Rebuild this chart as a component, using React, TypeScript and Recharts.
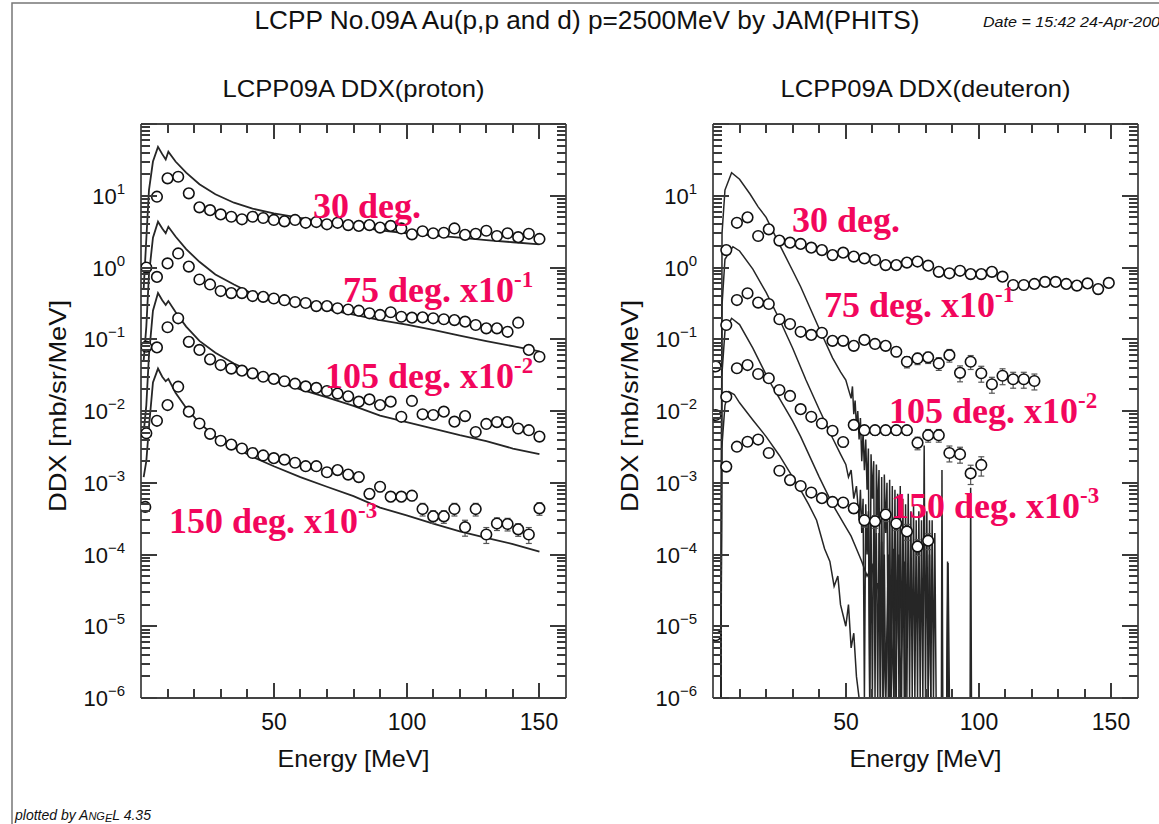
import React from 'react';
import { ComposedChart, Line, Scatter, XAxis, YAxis, ErrorBar } from 'recharts';

// ---- proton, measured (angle scaling x10^-n already applied) ----
const protonExpE = [1.6, 2, 6, 10, 14, 18, 22, 26, 30, 34, 38, 42, 46, 50, 54, 58, 62, 66, 70, 74, 78, 82, 86, 90, 94, 98, 102, 106, 110, 114, 118, 122, 126, 130, 134, 138, 142, 146, 150];
const p30Exp = [null, null, 9.7, 17.5, 18.4, 10.8, 6.9, 6.3, 5.5, 5.1, 4.7, 5.1, 4.9, 4.6, 4.4, 4.6, 4.2, 4.3, 4.0, 4.2, 3.9, 3.8, 3.9, 3.6, 3.8, 3.5, 2.9, 3.2, 3.0, 3.05, 3.5, 2.85, 2.95, 3.25, 2.75, 3.0, 2.65, 2.95, 2.5];
const p75Exp = [null, 1.0, 0.74, 1.14, 1.57, 1.03, 0.68, 0.58, 0.47, 0.44, 0.44, 0.4, 0.39, 0.37, 0.35, 0.33, 0.32, 0.29, 0.29, 0.27, 0.26, 0.25, 0.23, 0.218, 0.238, 0.206, 0.2, 0.202, 0.196, 0.19, 0.185, 0.176, 0.158, 0.142, 0.142, 0.127, 0.17, 0.071, 0.057];
const p105Exp = [null, 0.0787, 0.077, 0.147, 0.196, 0.092, 0.071, 0.0525, 0.0437, 0.039, 0.0365, 0.0335, 0.03, 0.028, 0.026, 0.024, 0.022, 0.021, 0.019, 0.0175, 0.016, 0.0135, 0.0145, 0.0121, 0.0135, 0.0083, 0.0138, 0.009, 0.0088, 0.0098, 0.0071, 0.0085, 0.0051, 0.0066, 0.007, 0.007, 0.0057, 0.0054, 0.0044];
const p150Exp = [0.00046, 0.0049, 0.0073, 0.0121, 0.0218, 0.0098, 0.0067, 0.0048, 0.00385, 0.0034, 0.003, 0.0026, 0.0024, 0.0022, 0.0021, 0.0019, 0.0017, 0.0017, 0.0014, 0.0015, 0.0013, 0.0012, 0.0007, 0.00088, 0.00064, 0.00064, 0.00066, 0.00043, 0.00034, 0.00034, 0.00043, 0.00024, 0.00043, 0.00019, 0.00027, 0.000266, 0.000224, 0.00019, 0.00044];
// relative error bars (only the high energy points show them)
const p105Rel = [...Array(26).fill(0), 0.1, 0.1, 0.1, 0.1, 0.1, 0.12, 0.12, 0.1, 0.12, 0.12, 0.15, 0.12, 0.12];
const p150Rel = [...Array(22).fill(0), 0.15, 0.15, 0.15, 0.15, 0.15, 0.2, 0.2, 0.2, 0.2, 0.25, 0.2, 0.25, 0.2, 0.2, 0.2, 0.25, 0.2];

// ---- proton, calculation ----
const protonCalcE = [1, 2, 3, 4.5, 6.4, 8, 9.3, 10.3, 13, 17, 22, 28, 35, 42, 50, 60, 70, 80, 90, 100, 110, 120, 130, 140, 150];
const p30Calc = [0.5, 2.5, 12, 30, 48, 38, 32, 41, 30, 21, 14.5, 10.5, 8, 6.6, 5.7, 4.9, 4.3, 3.8, 3.3, 3.0, 2.8, 2.6, 2.4, 2.25, 2.1];
const p75Calc = [0.05, 0.15, 0.8, 2.6, 4.35, 3.5, 3.0, 3.7, 2.7, 1.8, 1.2, 0.8, 0.58, 0.43, 0.37, 0.31, 0.26, 0.22, 0.185, 0.16, 0.135, 0.112, 0.094, 0.08, 0.068];
const p105Calc = [0.005, 0.012, 0.06, 0.25, 0.44, 0.35, 0.3, 0.34, 0.24, 0.15, 0.095, 0.065, 0.046, 0.035, 0.027, 0.02, 0.0155, 0.0118, 0.0086, 0.007, 0.0057, 0.0046, 0.0038, 0.003, 0.0025];
const p150Calc = [0.0012, 0.002, 0.006, 0.025, 0.039, 0.03, 0.026, 0.028, 0.018, 0.011, 0.0068, 0.0044, 0.0031, 0.0023, 0.0017, 0.0012, 0.00088, 0.00065, 0.00045, 0.00035, 0.00027, 0.00021, 0.00017, 0.00014, 0.00011];

// ---- deuteron, measured ----
const deutExpE = [1, 5, 9, 13, 17, 21, 25, 29, 33, 37, 41, 45, 49, 53, 57, 61, 65, 69, 73, 77, 81, 85, 89, 93, 97, 101, 105, 109, 113, 117, 121, 125, 129, 133, 137, 141, 145, 149];
const d30Exp = [null, 1.75, 4.2, 5.0, 2.75, 3.4, 2.37, 2.22, 2.13, 1.89, 1.75, 1.49, 1.61, 1.42, 1.34, 1.27, 1.08, 1.08, 1.17, 1.21, 1.06, 0.87, 0.83, 0.9, 0.81, 0.81, 0.87, 0.745, 0.57, 0.57, 0.59, 0.63, 0.63, 0.59, 0.56, 0.6, 0.5, 0.61];
const d75Exp = [0.0418, 0.158, 0.352, 0.437, 0.324, 0.31, 0.19, 0.163, 0.127, 0.115, 0.123, 0.095, 0.095, 0.081, 0.098, 0.086, 0.081, 0.067, 0.0486, 0.054, 0.056, 0.046, 0.06, 0.034, 0.0486, 0.0336, 0.0236, 0.031, 0.0277, 0.0277, 0.0262];
const d105Exp = [0.0088, 0.0158, 0.0394, 0.0437, 0.0328, 0.0286, 0.0196, 0.0162, 0.0106, 0.0083, 0.0067, 0.0053, 0.0037, 0.0064, 0.0054, 0.0054, 0.0054, 0.0054, 0.0054, 0.0036, 0.0046, 0.0046, 0.0026, 0.0025, 0.00135, 0.00177];
const d150Exp = [7.5e-6, 0.00168, 0.00318, 0.00373, 0.004, 0.0026, 0.00147, 0.00109, 0.0009, 0.00073, 0.00061, 0.00054, 0.00053, 0.00044, 0.0003, 0.00029, 0.00036, 0.00027, 0.00021, 0.000129, 0.000156];
const d30Rel = [...Array(11).fill(0), 0.06, 0.06, 0.06, 0.06, 0.06, 0.06, 0.06, 0.08, 0.08, 0.08, 0.1, 0.1, 0.12, 0.1, 0.1, 0.1, 0.12, 0.12, 0.14, 0.12, 0.14, 0.12, 0.14, 0.14, 0.14, 0.14, 0.14];
const d75Rel = [...Array(11).fill(0), 0.1, 0.1, 0.1, 0.12, 0.12, 0.12, 0.15, 0.18, 0.18, 0.18, 0.2, 0.2, 0.25, 0.22, 0.25, 0.25, 0.25, 0.25, 0.25, 0.25];
const d105Rel = [...Array(11).fill(0), 0.12, 0.15, 0.15, 0.15, 0.15, 0.15, 0.15, 0.15, 0.2, 0.2, 0.2, 0.25, 0.25, 0.3, 0.3];
const d150Rel = [...Array(11).fill(0), 0.15, 0.15, 0.15, 0.2, 0.2, 0.2, 0.2, 0.25, 0.25, 0.25];

// ---- deuteron, calculation [E, DDX]; the tails are noisy histograms dropping to zero ----
const d30Calc: [number, number][] = [
  [3, 1e-6], [3.4, 3], [4.5, 12], [7, 21], [10, 17], [14, 10.5], [17, 7], [20, 5], [25, 2.1], [30, 0.9], [33, 0.54], [40, 0.14], [45, 0.055], [48, 0.035],
  [50, 0.027], [51, 0.02], [52, 0.015], [52.5, 0.022], [53, 0.009], [53.5, 0.014], [54, 0.006], [54.5, 0.01], [55, 0.004], [55.5, 0.008], [56, 0.002],
  [56.5, 0.005], [57, 0.0015], [57.5, 0.004], [58, 0.0008], [58.5, 0.003], [59, 1e-6], [59.5, 0.0025], [60, 0.0006], [60.5, 0.002], [61, 1e-6],
  [61.5, 0.0018], [62, 0.0003], [62.5, 0.0015], [63, 1e-6], [63.5, 0.0012], [64, 1e-6], [64.5, 0.0013], [65, 0.0002], [65.5, 0.001], [66, 1e-6],
  [66.5, 0.0011], [67, 1e-6], [67.5, 0.0009], [68, 1e-6], [68.5, 0.0008], [69, 1e-6], [69.5, 0.0007], [70, 1e-6], [70.5, 0.0009], [71, 1e-6],
  [71.5, 0.0006], [72, 1e-6], [72.5, 0.0005], [73, 1e-6], [73.5, 0.0007], [74, 1e-6], [74.5, 0.0004], [75, 1e-6], [75.5, 0.0005], [76, 1e-6],
  [76.5, 0.0003], [77, 1e-6], [77.5, 0.0004], [78, 1e-6], [78.5, 0.0003], [79, 1e-6], [79.5, 0.0033], [80, 1e-6], [80.5, 0.0004], [81, 1e-6],
  [81.5, 0.0003], [82, 1e-6], [82.5, 0.0003], [83, 1e-6], [83.5, 0.0002], [84, 1e-6], [86, 1e-6], [86.2, 0.0015], [86.5, 1e-6], [88, 1e-6],
  [88.3, 0.00008], [88.6, 1e-6], [96.8, 1e-6], [97, 0.00085], [97.3, 1e-6],
];
const d75Calc: [number, number][] = [
  [3, 1e-6], [3.4, 0.3], [4.5, 1.3], [7.5, 1.95], [10, 1.7], [15, 0.95], [20, 0.45], [25, 0.19], [30, 0.075], [35, 0.027], [40, 0.0105], [45, 0.0042],
  [48, 0.0025], [50, 0.0018], [51, 0.0012], [52, 0.0015], [53, 0.0006], [54, 0.0009], [55, 0.0003], [55.5, 0.0008], [56, 0.0002], [56.5, 0.0006],
  [57, 1e-6], [57.5, 0.0005], [58, 0.0001], [58.5, 0.0004], [59, 1e-6], [59.5, 0.0003], [60, 1e-6], [60.5, 0.0003], [61, 0.00005], [61.5, 0.0002],
  [62, 1e-6], [62.5, 0.0002], [63, 1e-6], [63.5, 0.00015], [64, 1e-6], [64.5, 0.0001], [65, 1e-6], [66, 0.0001], [66.5, 1e-6], [68, 0.00012],
  [68.5, 1e-6], [70, 0.0001], [70.5, 1e-6], [72, 0.00008], [72.5, 1e-6], [81, 1e-6], [81.5, 0.0001], [82, 1e-6],
];
const d105Calc: [number, number][] = [
  [3, 1e-6], [3.3, 0.03], [4.5, 0.13], [7, 0.196], [10, 0.16], [15, 0.075], [21, 0.027], [25, 0.015], [30, 0.0072], [33, 0.0044], [40, 0.0012],
  [45, 0.0005], [50, 0.00024], [52, 0.00018], [54, 0.00012], [56, 0.00008], [58, 0.00005], [60, 0.00007], [61, 0.00002], [62, 0.00004],
  [64, 0.000015], [65, 1e-6], [66, 0.00002], [67, 1e-6], [68, 0.00001], [69, 1e-6], [88, 1e-6], [88.5, 0.000076], [89, 1e-6],
];
const d150Calc: [number, number][] = [
  [3, 1e-6], [3.3, 0.003], [4.5, 0.012], [6, 0.0186], [8, 0.017], [10, 0.013], [15, 0.0075], [20, 0.0044], [25, 0.0024], [30, 0.0012], [33, 0.00079],
  [36, 0.0005], [39, 0.0003], [42, 0.00012], [44, 0.00008], [45.6, 0.000036], [47, 0.00005], [48, 0.00002], [50, 0.00001], [51, 0.00002],
  [52, 0.000005], [53, 0.000008], [54, 0.000002], [55, 1e-6],
];

// ---- axes ----
const xTicks = [10, 20, 30, 40, 50, 60, 70, 80, 90, 100, 110, 120, 130, 140, 150];
const xLabelled = [50, 100, 150];
const decades = [1e-6, 1e-5, 1e-4, 1e-3, 1e-2, 1e-1, 1, 10];
const minorSteps = [1, 2, 3, 4, 5, 6, 7, 8, 9];
const yTicks = [...decades.flatMap((d) => minorSteps.map((m) => m * d)), 100];

const PLOT_TOP = 124;
const PLOT_W = 425;
const PLOT_H = 574;
const Y_AXIS_W = 80;
const TOP_H = 2;
const RIGHT_W = 2;
const BOTTOM_H = 80;
const PANEL_LEFTS = [141, 713];

const SANS = "'Liberation Sans', Arial, Helvetica, sans-serif";
const SERIF = "'Liberation Serif', 'Times New Roman', serif";
const INK = '#262626';
const TICK = '#3a3a3a';
const PINK = '#f2065c';
const axisStyle = { stroke: '#444', strokeWidth: 1.8 };

type Pt = { e: number; v: number; err: [number, number] };

const fromGrid = (energies: number[], values: (number | null)[], rel: number[] = []): Pt[] =>
  energies.flatMap((e, i) => {
    const v = values[i];
    if (v == null) return [];
    const r = rel[i] ?? 0;
    return [{ e, v, err: [v * r, v * r] as [number, number] }];
  });

const fromPairs = (pairs: [number, number][]) => pairs.map(([e, v]) => ({ e, v }));

const isDecade = (v: number) => Math.abs(Math.log10(v) - Math.round(Math.log10(v))) < 1e-6;

// ticks point into the plot on all four sides
const BottomTick = ({ x, y, payload }: any) => {
  const px = Math.round(Number(x));
  const py = Number(y);
  const major = xLabelled.includes(payload.value);
  return (
    <g>
      <path d={`M${px},${py}V${py - (major ? 15 : 9)}`} stroke={TICK} strokeWidth={2} fill="none" />
      {major && (
        <text x={px} y={py + 32} textAnchor="middle" fontSize={23} fontFamily={SANS} fill="#111">
          {payload.value}
        </text>
      )}
    </g>
  );
};

const TopTick = ({ x, y, payload }: any) => {
  const px = Math.round(Number(x));
  const py = Number(y);
  const major = xLabelled.includes(payload.value);
  return <path d={`M${px},${py}V${py + (major ? 15 : 9)}`} stroke={TICK} strokeWidth={2} fill="none" />;
};

const LeftTick = ({ x, y, payload }: any) => {
  const v = payload.value;
  const major = isDecade(v);
  const exp = Math.round(Math.log10(v));
  const px = Number(x);
  const py = Number(y);
  const ly = Math.round(py);
  return (
    <g>
      <path d={`M${px},${ly}H${px + (major ? 16 : 9)}`} stroke={TICK} strokeWidth={2} fill="none" />
      {major && exp < 2 && (
        <text x={px - 16} y={py + 8} textAnchor="end" fontSize={22} fontFamily={SANS} fill="#111">
          <tspan>10</tspan>
          <tspan dy={-10} fontSize={15}>{exp < 0 ? `\u2212${-exp}` : exp}</tspan>
        </text>
      )}
    </g>
  );
};

const RightTick = ({ x, y, payload }: any) => {
  const major = isDecade(payload.value);
  const px = Number(x);
  const ly = Math.round(Number(y));
  return <path d={`M${px},${ly}H${px - (major ? 16 : 9)}`} stroke={TICK} strokeWidth={2} fill="none" />;
};

const OpenCircle = ({ cx, cy }: any) =>
  cx == null || cy == null ? null : <circle cx={cx} cy={cy} r={5.3} fill="#fff" stroke="#111" strokeWidth={1.6} />;

type PanelProps = {
  left: number;
  curves: { e: number; v: number }[][];
  points: Pt[][];
  curveWidth: number;
};

const Panel = ({ left, curves, points, curveWidth }: PanelProps) => (
  <div style={{ position: 'absolute', left: left - Y_AXIS_W, top: PLOT_TOP - TOP_H }}>
    <ComposedChart
      width={Y_AXIS_W + PLOT_W + RIGHT_W}
      height={TOP_H + PLOT_H + BOTTOM_H}
      margin={{ top: 0, right: 0, bottom: 0, left: 0 }}
    >
      <XAxis
        xAxisId="b"
        dataKey="e"
        type="number"
        domain={[0, 160]}
        ticks={xTicks}
        interval={0}
        allowDataOverflow
        tickSize={0}
        tickMargin={0}
        tickLine={false}
        axisLine={axisStyle}
        height={BOTTOM_H}
        tick={(p: any) => <BottomTick {...p} />}
      />
      <XAxis
        xAxisId="t"
        orientation="top"
        dataKey="e"
        type="number"
        domain={[0, 160]}
        ticks={xTicks}
        interval={0}
        allowDataOverflow
        tickSize={0}
        tickMargin={0}
        tickLine={false}
        axisLine={axisStyle}
        height={TOP_H}
        tick={(p: any) => <TopTick {...p} />}
      />
      <YAxis
        yAxisId="l"
        type="number"
        scale="log"
        domain={[1e-6, 100]}
        ticks={yTicks}
        interval={0}
        allowDataOverflow
        tickSize={0}
        tickMargin={0}
        tickLine={false}
        axisLine={axisStyle}
        width={Y_AXIS_W}
        tick={(p: any) => <LeftTick {...p} />}
      />
      <YAxis
        yAxisId="r"
        orientation="right"
        type="number"
        scale="log"
        domain={[1e-6, 100]}
        ticks={yTicks}
        interval={0}
        allowDataOverflow
        tickSize={0}
        tickMargin={0}
        tickLine={false}
        axisLine={axisStyle}
        width={RIGHT_W}
        tick={(p: any) => <RightTick {...p} />}
      />
      {/* invisible copy so that the right-hand log axis has data */}
      <Line
        xAxisId="t"
        yAxisId="r"
        data={curves[0]}
        dataKey="v"
        stroke="none"
        dot={false}
        activeDot={false}
        isAnimationActive={false}
      />
      {curves.map((c, i) => (
        <Line
          key={`calc-${i}`}
          xAxisId="b"
          yAxisId="l"
          data={c}
          dataKey="v"
          type="linear"
          stroke={INK}
          strokeWidth={curveWidth}
          dot={false}
          activeDot={false}
          isAnimationActive={false}
        />
      ))}
      {points.map((p, i) => (
        <Scatter
          key={`exp-${i}`}
          xAxisId="b"
          yAxisId="l"
          data={p}
          dataKey="v"
          shape={(s: any) => <OpenCircle {...s} />}
          isAnimationActive={false}
        >
          <ErrorBar dataKey="err" direction="y" width={3} stroke="#555" strokeWidth={1.2} />
        </Scatter>
      ))}
    </ComposedChart>
  </div>
);

const protonCurves = [p30Calc, p75Calc, p105Calc, p150Calc].map((vals) => fromGrid(protonCalcE, vals));
const protonPoints = [
  fromGrid(protonExpE, p30Exp),
  fromGrid(protonExpE, p75Exp),
  fromGrid(protonExpE, p105Exp, p105Rel),
  fromGrid(protonExpE, p150Exp, p150Rel),
];
const deutCurves = [d30Calc, d75Calc, d105Calc, d150Calc].map(fromPairs);
const deutPoints = [
  fromGrid(deutExpE, d30Exp, d30Rel),
  fromGrid(deutExpE, d75Exp, d75Rel),
  fromGrid(deutExpE, d105Exp, d105Rel),
  fromGrid(deutExpE, d150Exp, d150Rel),
];

const protonNotes = [
  { x: 313, y: 218, main: '30 deg.', sup: '' },
  { x: 343, y: 302, main: '75 deg. x10', sup: '-1' },
  { x: 325, y: 388, main: '105 deg. x10', sup: '-2' },
  { x: 169, y: 533, main: '150 deg. x10', sup: '-3' },
];
const deutNotes = [
  { x: 792, y: 232, main: '30 deg.', sup: '' },
  { x: 824, y: 317, main: '75 deg. x10', sup: '-1' },
  { x: 889, y: 423, main: '105 deg. x10', sup: '-2' },
  { x: 891, y: 518, main: '150 deg. x10', sup: '-3' },
];

const App = () => (
  <div style={{ position: 'absolute', left: 0, top: 0, width: 1159, height: 824, background: '#fff', overflow: 'hidden' }}>
    <Panel left={PANEL_LEFTS[0]} curves={protonCurves} points={protonPoints} curveWidth={1.8} />
    <Panel left={PANEL_LEFTS[1]} curves={deutCurves} points={deutPoints} curveWidth={1.5} />
    <svg width={1159} height={824} style={{ position: 'absolute', left: 0, top: 0, pointerEvents: 'none' }}>
      <path d="M12 1200 L12 3 L1200 3" fill="none" stroke="#777" strokeWidth={1.5} />
      <text x={587} y={29} textAnchor="middle" fontSize={25} fontFamily={SANS} fill="#111" textLength={665} lengthAdjust="spacingAndGlyphs">
        LCPP No.09A Au(p,p and d) p=2500MeV by JAM(PHITS)
      </text>
      <text x={983} y={27} fontSize={15} fontStyle="italic" fontFamily={SANS} fill="#111" textLength={186} lengthAdjust="spacingAndGlyphs">
        Date = 15:42 24-Apr-2006
      </text>
      {[
        { t: 'LCPP09A DDX(proton)', w: 262 },
        { t: 'LCPP09A DDX(deuteron)', w: 290 },
      ].map((s, i) => (
        <text key={s.t} x={PANEL_LEFTS[i] + PLOT_W / 2} y={97} textAnchor="middle" fontSize={24} fontFamily={SANS} fill="#111" textLength={s.w} lengthAdjust="spacingAndGlyphs">
          {s.t}
        </text>
      ))}
      {PANEL_LEFTS.map((l) => (
        <g key={`lab-${l}`}>
          <text x={l + PLOT_W / 2} y={767} textAnchor="middle" fontSize={24} fontFamily={SANS} fill="#111" textLength={152} lengthAdjust="spacingAndGlyphs">
            Energy [MeV]
          </text>
          <text
            x={l - 75}
            y={406}
            transform={`rotate(-90 ${l - 75} 406)`}
            textAnchor="middle"
            fontSize={24}
            fontFamily={SANS}
            fill="#111"
            textLength={212}
            lengthAdjust="spacingAndGlyphs"
          >
            DDX [mb/sr/MeV]
          </text>
        </g>
      ))}
      {[...protonNotes, ...deutNotes].map((n) => (
        <text key={`${n.x}-${n.y}`} x={n.x} y={n.y} fontSize={36} fontWeight="bold" fontFamily={SERIF} fill={PINK}>
          <tspan>{n.main}</tspan>
          {n.sup && (
            <tspan dy={-15} fontSize={23}>
              {n.sup}
            </tspan>
          )}
        </text>
      ))}
      <text x={15} y={820} fontSize={14} fontStyle="italic" fontFamily={SANS} fill="#111">
        plotted by A<tspan fontSize={11}>NG</tspan>
        <tspan fontSize={11} dy={2}>E</tspan>
        <tspan dy={-2}>L 4.35</tspan>
      </text>
    </svg>
  </div>
);

export default App;
